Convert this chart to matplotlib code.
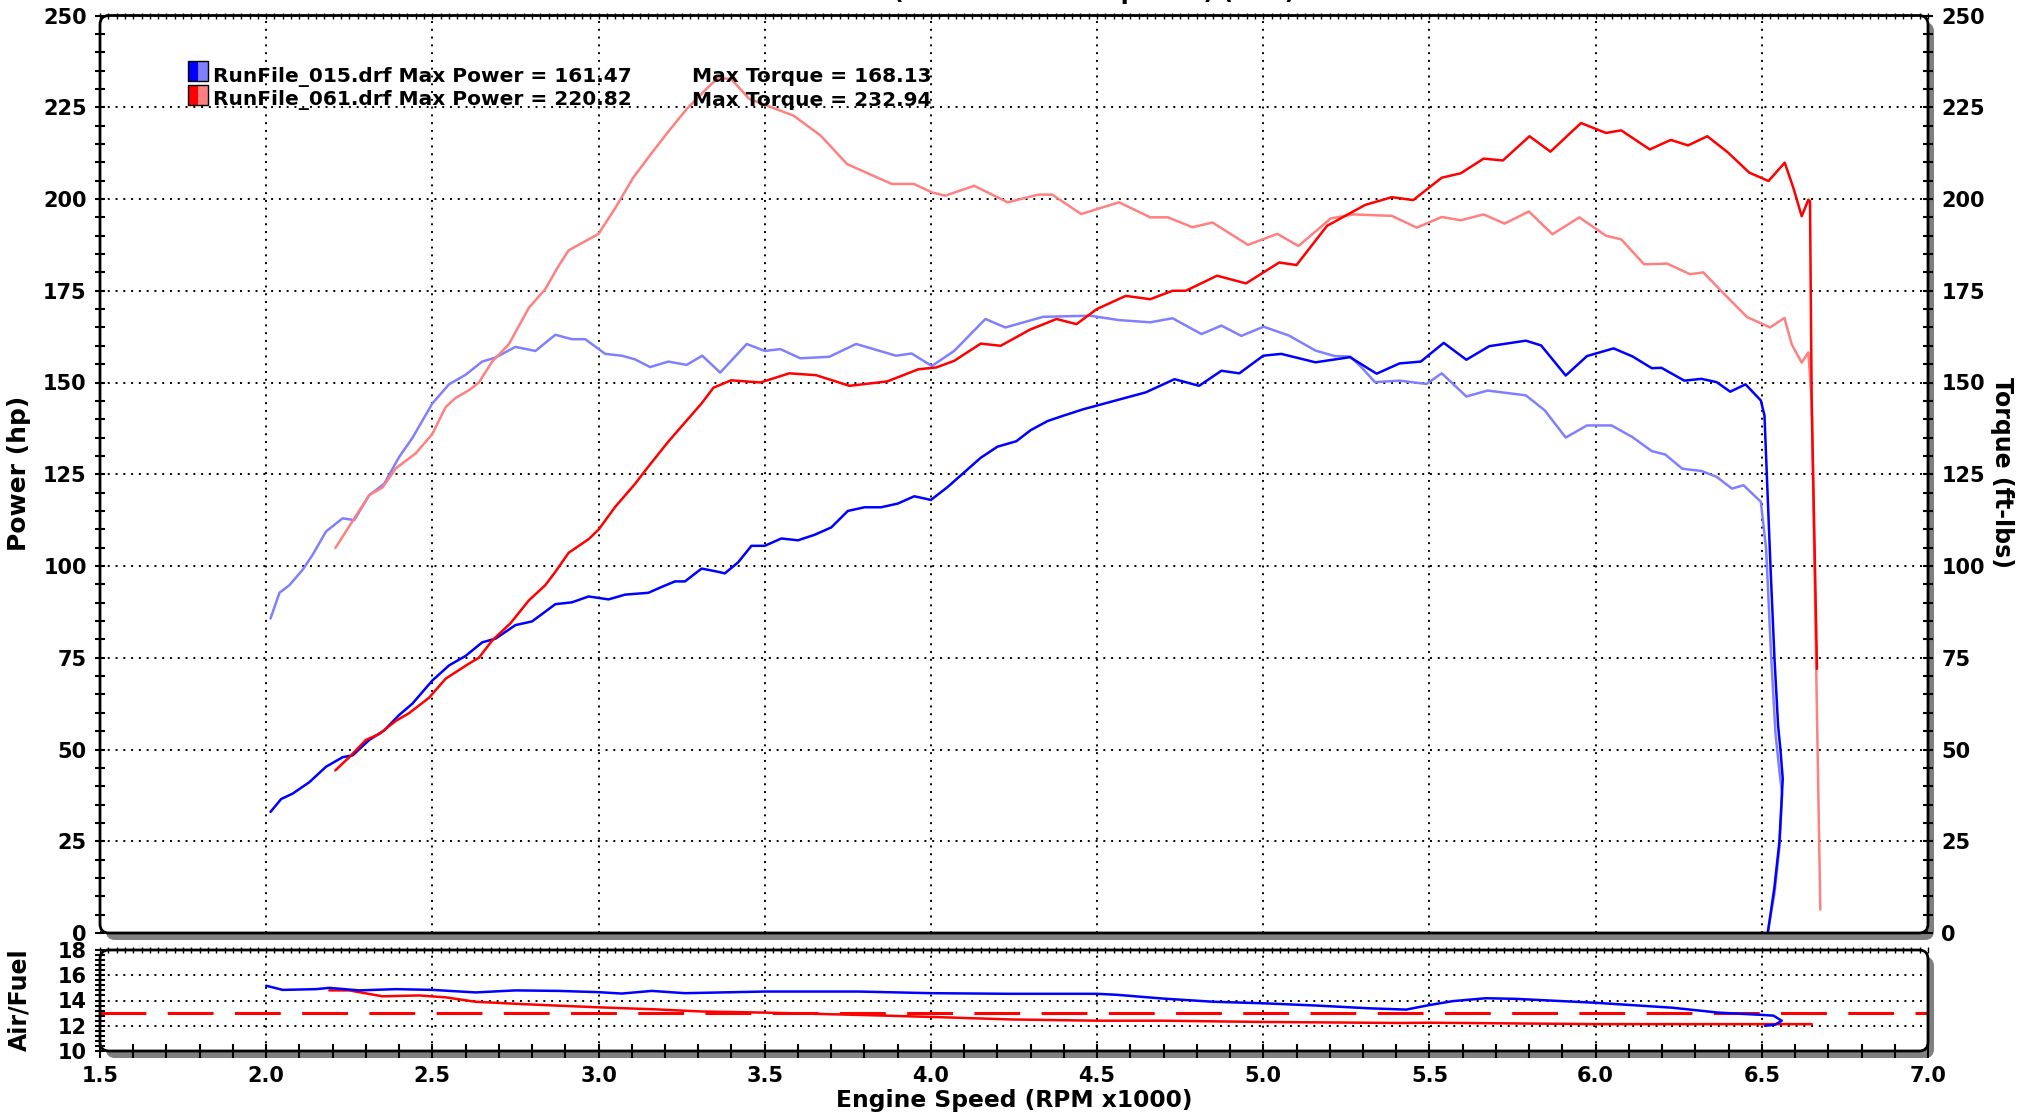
import matplotlib.pyplot as plt
from matplotlib.patches import FancyBboxPatch, Rectangle
from matplotlib.ticker import MultipleLocator, FormatStrFormatter

plt.rcParams['font.family'] = 'DejaVu Sans'
plt.rcParams['font.weight'] = 'bold'

# RunFile_015 power (hp)
rpm_015_hp = [2.013, 2.045, 2.08, 2.13, 2.18, 2.23, 2.26, 2.31, 2.355, 2.40, 2.44, 2.50, 2.55, 2.60,
              2.65, 2.69, 2.75, 2.80, 2.87, 2.92, 2.97, 3.03, 3.08, 3.15, 3.19, 3.23, 3.26, 3.31,
              3.35, 3.38, 3.42, 3.46, 3.50, 3.55, 3.60, 3.65, 3.70, 3.75, 3.80, 3.85, 3.90, 3.95,
              4.00, 4.05, 4.10, 4.15, 4.20, 4.257, 4.30, 4.351, 4.40, 4.458, 4.552, 4.646, 4.733,
              4.807, 4.874, 4.928, 5.0, 5.054, 5.157, 5.261, 5.341, 5.41, 5.474, 5.543, 5.611,
              5.68, 5.79, 5.836, 5.91, 5.974, 6.054, 6.111, 6.169, 6.198, 6.267, 6.318, 6.364,
              6.405, 6.451, 6.497, 6.508, 6.526, 6.538, 6.549, 6.556, 6.563, 6.553, 6.538, 6.518]
hp_015 = [33.0, 36.5, 38.0, 41.1, 45.3, 47.9, 48.4, 52.6, 55.2, 59.4, 62.5, 68.8, 72.9, 75.5,
          79.2, 80.2, 83.9, 84.9, 89.6, 90.1, 91.7, 90.9, 92.2, 92.7, 94.3, 95.8, 95.8, 99.3,
          98.6, 98.0, 101.0, 105.5, 105.5, 107.5, 107.0, 108.5, 110.5, 115.0, 116.0, 116.0, 117.0, 119.0,
          118.0, 121.5, 125.5, 129.5, 132.5, 134.0, 137.0, 139.5, 141.0, 142.7, 145.0, 147.3, 150.9,
          149.1, 153.2, 152.5, 157.3, 157.8, 155.5, 156.9, 152.4, 155.2, 155.7, 160.8, 156.2,
          159.9, 161.4, 160.1, 151.9, 157.2, 159.3, 157.1, 153.9, 154.0, 150.5, 151.0, 150.1,
          147.5, 149.5, 145.1, 141.0, 100.0, 75.0, 56.5, 50.0, 42.0, 25.0, 12.5, 0.0]

# RunFile_015 torque (ft-lbs)
rpm_015_tq = [2.013, 2.04, 2.07, 2.11, 2.14, 2.18, 2.23, 2.265, 2.31, 2.355, 2.40, 2.44, 2.50, 2.55,
              2.60, 2.65, 2.69, 2.75, 2.81, 2.87, 2.92, 2.96, 3.02, 3.07, 3.11, 3.155, 3.21, 3.265,
              3.312, 3.366, 3.446, 3.50, 3.547, 3.607, 3.694, 3.775, 3.895, 3.942, 4.003, 4.07,
              4.164, 4.224, 4.338, 4.479, 4.566, 4.66, 4.727, 4.814, 4.874, 4.934, 5.001, 5.077,
              5.157, 5.215, 5.261, 5.295, 5.336, 5.41, 5.491, 5.537, 5.611, 5.675, 5.79, 5.847,
              5.91, 5.974, 6.048, 6.111, 6.169, 6.209, 6.261, 6.318, 6.364, 6.41, 6.445, 6.497,
              6.513, 6.528, 6.541, 6.553, 6.561, 6.553, 6.538, 6.518]
tq_015 = [85.7, 92.7, 94.8, 99.0, 103.1, 109.4, 113.0, 112.5, 119.3, 122.4, 129.7, 134.9, 144.3, 149.5,
          152.1, 155.7, 156.8, 159.7, 158.6, 163.0, 161.8, 161.8, 157.8, 157.3, 156.3, 154.2, 155.7, 154.8,
          157.3, 152.7, 160.5, 158.6, 159.1, 156.6, 157.0, 160.5, 157.3, 157.9, 154.5, 158.6,
          167.3, 165.0, 167.9, 168.2, 167.0, 166.4, 167.5, 163.2, 165.5, 162.7, 165.2, 162.8,
          158.7, 157.2, 157.1, 154.2, 150.1, 150.5, 149.6, 152.5, 146.2, 147.8, 146.5, 142.4,
          135.0, 138.3, 138.3, 135.1, 131.3, 130.4, 126.5, 125.9, 124.3, 121.1, 122.0, 117.5,
          104.6, 75.5, 54.5, 44.0, 37.9, 23.3, 10.8, 0.4]

# RunFile_061 power (hp)
rpm_061_hp = [2.208, 2.25, 2.30, 2.34, 2.39, 2.43, 2.49, 2.54, 2.61, 2.64, 2.68, 2.735, 2.79, 2.84,
              2.87, 2.91, 2.97, 3.00, 3.05, 3.11, 3.15, 3.21, 3.26, 3.31, 3.346, 3.399, 3.487, 3.574,
              3.654, 3.755, 3.869, 3.962, 4.016, 4.07, 4.15, 4.21, 4.298, 4.378, 4.438, 4.499, 4.586,
              4.66, 4.727, 4.767, 4.861, 4.948, 5.048, 5.10, 5.192, 5.307, 5.387, 5.451, 5.537,
              5.594, 5.663, 5.721, 5.801, 5.864, 5.956, 6.031, 6.077, 6.163, 6.226, 6.278, 6.336,
              6.399, 6.462, 6.52, 6.569, 6.595, 6.62, 6.64, 6.645, 6.65, 6.666]
hp_061 = [44.3, 47.9, 52.6, 54.2, 57.8, 59.9, 64.1, 69.3, 73.4, 75.0, 79.7, 84.4, 90.6, 94.8,
          98.4, 103.6, 107.3, 109.9, 116.1, 122.4, 127.1, 133.9, 139.1, 144.3, 148.6, 150.6, 150.0, 152.5,
          152.0, 149.1, 150.3, 153.6, 154.1, 155.9, 160.6, 160.0, 164.4, 167.3, 165.9, 170.0, 173.6,
          172.7, 175.0, 175.0, 179.1, 177.0, 182.7, 182.0, 192.7, 198.4, 200.5, 199.7, 205.8,
          207.0, 211.0, 210.5, 217.1, 212.9, 220.7, 218.0, 218.7, 213.5, 216.1, 214.6, 217.1,
          212.6, 207.2, 204.9, 209.9, 203.0, 195.3, 199.8, 199.4, 145.0, 72.0]

# RunFile_061 torque (ft-lbs)
rpm_061_tq = [2.208, 2.24, 2.28, 2.31, 2.35, 2.39, 2.45, 2.50, 2.54, 2.57, 2.61, 2.64, 2.68, 2.73,
              2.79, 2.84, 2.88, 2.91, 2.95, 3.00, 3.05, 3.105, 3.158, 3.212, 3.265, 3.319, 3.359,
              3.399, 3.453, 3.52, 3.587, 3.668, 3.748, 3.815, 3.882, 3.949, 4.003, 4.043, 4.13,
              4.231, 4.324, 4.365, 4.452, 4.566, 4.66, 4.713, 4.787, 4.847, 4.954, 5.042, 5.106,
              5.203, 5.272, 5.387, 5.462, 5.537, 5.594, 5.663, 5.726, 5.799, 5.87, 5.951, 6.031,
              6.077, 6.146, 6.215, 6.284, 6.324, 6.387, 6.456, 6.525, 6.568, 6.59, 6.62, 6.64,
              6.65, 6.676]
tq_061 = [104.9, 109.4, 115.1, 119.3, 121.4, 126.6, 130.7, 136.0, 143.3, 145.8, 147.9, 150.0, 155.7, 160.4,
          170.3, 175.5, 181.8, 186.0, 188.0, 190.5, 197.5, 205.9, 212.3, 218.6, 224.5, 229.5, 233.0,
          232.7, 227.3, 225.0, 222.7, 217.3, 209.5, 206.8, 204.1, 204.1, 201.8, 200.9, 203.6,
          199.1, 201.2, 201.2, 195.9, 199.1, 195.0, 195.0, 192.3, 193.6, 187.5, 190.5, 187.2,
          194.7, 195.8, 195.4, 192.2, 195.1, 194.2, 195.8, 193.3, 196.6, 190.4, 195.0, 190.0,
          189.0, 182.2, 182.4, 179.5, 180.0, 174.1, 167.8, 165.0, 167.6, 160.4, 155.4, 158.2,
          145.0, 6.4]

# Air/Fuel ratio
rpm_015_afr = [2.0, 2.05, 2.15, 2.19, 2.28, 2.39, 2.5, 2.63, 2.75, 2.88, 3.0, 3.07, 3.16, 3.26, 3.5,
               3.78, 4.0, 4.24, 4.5, 4.56, 4.7, 4.85, 5.0, 5.16, 5.32, 5.43, 5.5, 5.57, 5.67, 5.76,
               6.0, 6.23, 6.37, 6.5, 6.535, 6.56, 6.54, 6.51]
afr_015 = [15.17, 14.84, 14.9, 15.0, 14.8, 14.9, 14.84, 14.64, 14.8, 14.76, 14.66, 14.55, 14.76, 14.58, 14.71,
           14.71, 14.58, 14.53, 14.53, 14.45, 14.15, 13.9, 13.78, 13.6, 13.38, 13.28, 13.64, 13.95, 14.18, 14.13,
           13.82, 13.43, 13.04, 12.86, 12.8, 12.4, 12.08, 12.0]
rpm_061_afr = [2.19, 2.25, 2.35, 2.46, 2.54, 2.63, 2.75, 2.88, 3.0, 3.17, 3.31, 3.5, 3.78, 4.0, 4.24,
               4.5, 4.7, 5.0, 5.41, 5.5, 6.0, 6.5, 6.65]
afr_061 = [14.8, 14.8, 14.33, 14.4, 14.25, 13.9, 13.74, 13.59, 13.46, 13.3, 13.13, 13.04, 12.86, 12.7, 12.5,
           12.4, 12.4, 12.3, 12.22, 12.24, 12.13, 12.13, 12.13]
afr_target = 13.0

legend_lines = ["RunFile_015.drf Max Power = 161.47", "RunFile_061.drf Max Power = 220.82"]
legend_torque = ["Max Torque = 168.13", "Max Torque = 232.94"]

blue = "#0000ff"
blue_lt = "#8080ff"
red = "#ff0000"
red_lt = "#ff8080"

W, H = 2032, 1116
fig = plt.figure(figsize=(W / 100, H / 100), dpi=100)


def px_box(left, top, right, bottom):
    return [left / W, 1 - bottom / H, (right - left) / W, (bottom - top) / H]


def frame(left, top, right, bottom):
    # rounded panel with grey drop shadow, in inches
    x0, y0 = left / 100, (H - bottom) / 100
    w, h = (right - left) / 100, (bottom - top) / 100
    style = "round,pad=0,rounding_size=0.09"
    fig.add_artist(FancyBboxPatch((x0 + 0.06, y0 - 0.07), w, h, boxstyle=style, transform=fig.dpi_scale_trans,
                                  fc="#808080", ec="none", zorder=-2))
    fig.add_artist(FancyBboxPatch((x0, y0), w, h, boxstyle=style, transform=fig.dpi_scale_trans,
                                  fc="white", ec="none", zorder=-1))
    fig.add_artist(FancyBboxPatch((x0, y0), w, h, boxstyle=style, transform=fig.dpi_scale_trans,
                                  fc="none", ec="black", lw=2, zorder=5))


main_box = (100, 15.5, 1928, 933)
afr_box = (100, 950, 1928, 1051)
frame(*main_box)
frame(*afr_box)

ax = fig.add_axes(px_box(*main_box))
ax2 = fig.add_axes(px_box(*afr_box))
grid_style = dict(color="black", linestyle=(0, (1, 3)), linewidth=1.4)
line_kw = dict(lw=1.8, solid_joinstyle="round", solid_capstyle="round")

# main panel
ax.set_facecolor("none")
for s in ax.spines.values():
    s.set_visible(False)
ax.plot(rpm_015_tq, tq_015, color=blue_lt, **line_kw)
ax.plot(rpm_061_tq, tq_061, color=red_lt, **line_kw)
ax.plot(rpm_015_hp, hp_015, color=blue, **line_kw)
ax.plot(rpm_061_hp, hp_061, color=red, **line_kw)
ax.set_xlim(1.5, 7.0)
ax.set_ylim(0, 250)
ax.yaxis.set_major_locator(MultipleLocator(25))
ax.yaxis.set_minor_locator(MultipleLocator(5))
ax.xaxis.set_major_locator(MultipleLocator(0.5))
ax.xaxis.set_minor_locator(MultipleLocator(0.025))
ax.tick_params(axis="y", which="both", direction="inout", length=7, width=1.5, left=True, right=True,
               labelleft=True, labelright=True, labelsize=15, pad=6)
ax.tick_params(axis="x", which="both", direction="inout", length=4, width=1, bottom=False, top=True,
               labelbottom=False, labeltop=False)
ax.grid(True, which="major", **grid_style)

# air/fuel panel
ax2.set_facecolor("none")
for s in ax2.spines.values():
    s.set_visible(False)
ax2.axhline(afr_target, color=red, lw=2.2, linestyle=(0, (15, 7)))
ax2.plot(rpm_061_afr, afr_061, color=red, **line_kw)
ax2.plot(rpm_015_afr, afr_015, color=blue, **line_kw)
ax2.set_xlim(1.5, 7.0)
ax2.set_ylim(10, 18)
ax2.yaxis.set_major_locator(MultipleLocator(2))
ax2.yaxis.set_minor_locator(MultipleLocator(0.4))
ax2.xaxis.set_major_locator(MultipleLocator(0.5))
ax2.xaxis.set_minor_locator(MultipleLocator(0.1))
ax2.xaxis.set_major_formatter(FormatStrFormatter("%.1f"))
ax2.tick_params(axis="y", which="both", direction="inout", length=7, width=1.5, left=True, right=False,
                labelsize=15, pad=6)
ax2.tick_params(axis="x", which="both", direction="inout", length=10, width=1.5, bottom=True, top=False,
                labelsize=15, pad=6)
ax2.grid(True, which="major", **grid_style)
sec = ax2.secondary_xaxis("top")
sec.xaxis.set_major_locator(MultipleLocator(0.025))
sec.tick_params(direction="inout", length=4, width=1, labeltop=False)
sec.spines["top"].set_visible(False)

# legend block
for i, (txt, tq_txt) in enumerate(zip(legend_lines, legend_torque)):
    top = 61 + i * 23.5
    dark, light = (blue, blue_lt) if i == 0 else (red, red_lt)
    y0 = (H - top - 20) / 100
    fig.add_artist(Rectangle((1.88, y0), 0.10, 0.20, transform=fig.dpi_scale_trans, fc=dark, ec="none", zorder=6))
    fig.add_artist(Rectangle((1.98, y0), 0.10, 0.20, transform=fig.dpi_scale_trans, fc=light, ec="none", zorder=6))
    fig.add_artist(Rectangle((1.88, y0), 0.20, 0.20, transform=fig.dpi_scale_trans, fc="none", ec="black",
                             lw=1, zorder=7))
    fig.text(213 / W, 1 - (top + 21) / H, txt, fontsize=14.5, va="baseline", ha="left", zorder=8)
    fig.text(692 / W, 1 - (top + 21) / H, tq_txt, fontsize=14.5, va="baseline", ha="left", zorder=8)

# title (cut off at the top edge, as in the source chart) and axis labels
fig.text(1295 / W, 1 + 1 / H, "Run Results (Corrected Horsepower) (SAE)", ha="right", va="baseline", fontsize=17)
fig.text(19 / W, 1 - 473 / H, "Power (hp)", rotation=90, ha="center", va="center", fontsize=18)
fig.text(2002 / W, 1 - 473 / H, "Torque (ft-lbs)", rotation=270, ha="center", va="center", fontsize=17)
fig.text(19 / W, 1 - 1000 / H, "Air/Fuel", rotation=90, ha="center", va="center", fontsize=17)
fig.text(1014 / W, 1 - 1100 / H, "Engine Speed (RPM x1000)", ha="center", va="center", fontsize=16.8)

fig.savefig("out.png", dpi=100)
